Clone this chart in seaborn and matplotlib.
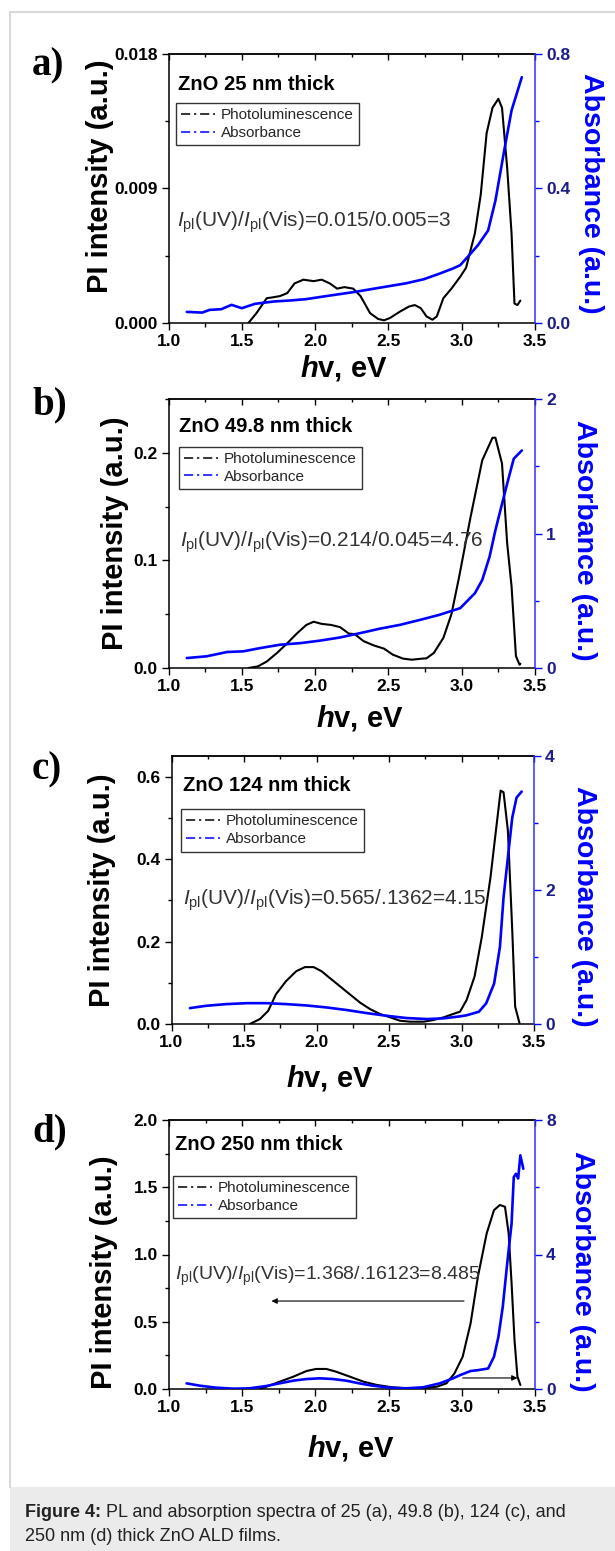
import matplotlib
matplotlib.use("Agg")
import matplotlib.pyplot as plt
import numpy as np
import pandas as pd
import seaborn as sns
from matplotlib.lines import Line2D
from matplotlib.patches import Rectangle
from matplotlib.ticker import MultipleLocator, FormatStrFormatter

# ---------------- data ----------------
a_pl_x = [1.545, 1.60, 1.67, 1.70, 1.76, 1.81, 1.86, 1.92, 1.99, 2.045, 2.10, 2.15, 2.20, 2.26, 2.31,
          2.375, 2.43, 2.47, 2.51, 2.58, 2.64, 2.68, 2.72, 2.76, 2.80, 2.83, 2.875, 2.93, 2.99, 3.03,
          3.09, 3.13, 3.17, 3.21, 3.25, 3.275, 3.31, 3.34, 3.36, 3.38, 3.40]
a_pl_y = [0.0, 0.00066, 0.00166, 0.0017, 0.0018, 0.002, 0.00265, 0.0029, 0.0028, 0.0029, 0.00265,
          0.0023, 0.0024, 0.0023, 0.0018, 0.00066, 0.00027, 0.00018, 0.00033, 0.00077, 0.0011, 0.0012,
          0.001, 0.00044, 0.00022, 0.00044, 0.00166, 0.0023, 0.0031, 0.0037, 0.006, 0.0086, 0.0127,
          0.0144, 0.0150, 0.0144, 0.0104, 0.006, 0.0013, 0.0012, 0.0015]
a_ab_x = [1.125, 1.23, 1.28, 1.36, 1.43, 1.50, 1.59, 1.72, 1.83, 1.94, 2.06, 2.17, 2.28, 2.40, 2.51,
          2.62, 2.74, 2.85, 2.94, 2.99, 3.06, 3.11, 3.18, 3.23, 3.29, 3.34, 3.41]
a_ab_y = [0.033, 0.031, 0.039, 0.041, 0.054, 0.044, 0.057, 0.064, 0.067, 0.071, 0.079, 0.086, 0.093,
          0.102, 0.110, 0.118, 0.130, 0.147, 0.162, 0.172, 0.206, 0.231, 0.275, 0.364, 0.513, 0.632, 0.731]

b_pl_x = [1.545, 1.61, 1.67, 1.74, 1.81, 1.875, 1.94, 1.99, 2.045, 2.11, 2.17, 2.23, 2.27, 2.33, 2.40,
          2.47, 2.53, 2.60, 2.66, 2.73, 2.76, 2.81, 2.875, 2.93, 2.98, 3.06, 3.14, 3.21, 3.23, 3.275,
          3.31, 3.34, 3.37, 3.395, 3.40]
b_pl_y = [0.0, 0.0015, 0.006, 0.014, 0.023, 0.032, 0.040, 0.043, 0.041, 0.040, 0.038, 0.032, 0.0315,
          0.025, 0.021, 0.018, 0.0124, 0.0087, 0.0077, 0.0087, 0.009, 0.014, 0.028, 0.05, 0.083, 0.14,
          0.193, 0.214, 0.214, 0.19, 0.116, 0.076, 0.011, 0.003, 0.004]
b_ab_x = [1.125, 1.26, 1.40, 1.51, 1.625, 1.76, 1.90, 2.03, 2.17, 2.31, 2.44, 2.58, 2.72, 2.85, 2.99,
          3.09, 3.14, 3.19, 3.23, 3.275, 3.31, 3.355, 3.41]
b_ab_y = [0.074, 0.087, 0.119, 0.124, 0.148, 0.173, 0.185, 0.203, 0.227, 0.260, 0.292, 0.321, 0.359,
          0.396, 0.445, 0.556, 0.654, 0.827, 1.025, 1.22, 1.37, 1.556, 1.617]

c_pl_x = [1.54, 1.61, 1.667, 1.72, 1.79, 1.86, 1.92, 1.98, 2.035, 2.09, 2.16, 2.23, 2.30, 2.37, 2.44,
          2.51, 2.575, 2.645, 2.74, 2.805, 2.875, 2.94, 2.99, 3.035, 3.09, 3.14, 3.20, 3.24, 3.27, 3.29,
          3.32, 3.35, 3.37, 3.40]
c_pl_y = [0.0, 0.012, 0.032, 0.072, 0.104, 0.128, 0.138, 0.138, 0.128, 0.112, 0.092, 0.072, 0.052,
          0.036, 0.024, 0.016, 0.008, 0.0056, 0.0056, 0.0096, 0.016, 0.024, 0.03, 0.058, 0.115, 0.211,
          0.356, 0.477, 0.566, 0.562, 0.469, 0.227, 0.042, 0.002]
c_ab_x = [1.127, 1.24, 1.38, 1.52, 1.655, 1.79, 1.93, 2.07, 2.21, 2.345, 2.48, 2.62, 2.76, 2.875, 2.99,
          3.035, 3.12, 3.17, 3.225, 3.265, 3.29, 3.32, 3.35, 3.38, 3.415]
c_ab_y = [0.237, 0.272, 0.297, 0.311, 0.311, 0.297, 0.277, 0.247, 0.208, 0.163, 0.124, 0.089, 0.074,
          0.084, 0.114, 0.13, 0.183, 0.307, 0.604, 1.15, 1.89, 2.49, 3.08, 3.38, 3.47]

d_pl_x = [1.62, 1.665, 1.755, 1.85, 1.94, 2.005, 2.075, 2.14, 2.235, 2.33, 2.42, 2.53, 2.62, 2.735,
          2.83, 2.895, 2.95, 3.006, 3.06, 3.11, 3.17, 3.22, 3.26, 3.295, 3.32, 3.34, 3.36, 3.38, 3.40]
d_pl_y = [0.003, 0.017, 0.054, 0.092, 0.134, 0.149, 0.149, 0.129, 0.092, 0.054, 0.030, 0.012, 0.005,
          0.005, 0.017, 0.042, 0.116, 0.24, 0.488, 0.835, 1.157, 1.33, 1.368, 1.355, 1.157, 0.786,
          0.364, 0.092, 0.03]
d_ab_x = [1.12, 1.21, 1.32, 1.44, 1.55, 1.665, 1.755, 1.85, 1.94, 2.03, 2.12, 2.21, 2.30, 2.39, 2.51,
          2.62, 2.735, 2.85, 2.94, 2.99, 3.06, 3.11, 3.18, 3.22, 3.25, 3.28, 3.31, 3.34, 3.355, 3.37,
          3.385, 3.40, 3.42]
d_ab_y = [0.168, 0.099, 0.040, 0.01, 0.02, 0.089, 0.168, 0.248, 0.297, 0.317, 0.297, 0.248, 0.168,
          0.099, 0.04, 0.02, 0.05, 0.168, 0.317, 0.416, 0.535, 0.56, 0.61, 0.96, 1.55, 2.45, 3.73, 4.92,
          6.3, 6.4, 6.26, 6.95, 6.55]

panel_letters = ["a)", "b)", "c)", "d)"]
film_titles = ["ZnO 25 nm thick", "ZnO 49.8 nm thick", "ZnO 124 nm thick", "ZnO 250 nm thick"]
ratio_texts = [r"$I_{\rm pl}$(UV)/$I_{\rm pl}$(Vis)=0.015/0.005=3",
               r"$I_{\rm pl}$(UV)/$I_{\rm pl}$(Vis)=0.214/0.045=4.76",
               r"$I_{\rm pl}$(UV)/$I_{\rm pl}$(Vis)=0.565/.1362=4.15",
               r"$I_{\rm pl}$(UV)/$I_{\rm pl}$(Vis)=1.368/.16123=8.485"]
pl_ylims = [0.018, 0.25, 0.65, 2.0]
pl_ticks = [[0.0, 0.009, 0.018], [0.0, 0.1, 0.2], [0.0, 0.2, 0.4, 0.6], [0.0, 0.5, 1.0, 1.5, 2.0]]
pl_fmts = ["%.3f", "%.1f", "%.1f", "%.1f"]
ab_ylims = [0.8, 2.0, 4.0, 8.0]
ab_ticks = [[0.0, 0.4, 0.8], [0, 1, 2], [0, 2, 4], [0, 4, 8]]
ab_fmts = ["%.1f", "%d", "%d", "%d"]
series_labels = ["Photoluminescence", "Absorbance"]
caption_bold = "Figure 4:"
caption_line1 = " PL and absorption spectra of 25 (a), 49.8 (b), 124 (c), and"
caption_line2 = "250 nm (d) thick ZnO ALD films."

# ---------------- style ----------------
sns.set_theme(style="ticks")
plt.rcParams["font.family"] = ["Liberation Sans", "DejaVu Sans"]
plt.rcParams["font.weight"] = "bold"
plt.rcParams["mathtext.fontset"] = "custom"
plt.rcParams["mathtext.rm"] = "Liberation Sans:normal"
plt.rcParams["mathtext.it"] = "Liberation Sans:italic:normal"
plt.rcParams["mathtext.bf"] = "Liberation Sans:bold"
try:
    plt.rcParams["mathtext.bfit"] = "Liberation Sans:italic:bold"
    xlab = r"$\mathbfit{h}$v, eV"
except KeyError:
    xlab = r"$\mathit{h}$v, eV"

W, H = 615, 1551
fig = plt.figure(figsize=(W / 100, H / 100), dpi=100)
fig.patch.set_facecolor("white")

def rect(L, R, T, B):
    return [L / W, 1 - B / H, (R - L) / W, (B - T) / H]

boxes = [(168.5, 535, 54, 323), (168.5, 535, 399, 668), (171.5, 534, 756, 1024), (169, 535, 1120, 1389)]
title_pos = [(0.026, 0.866), (0.029, 0.878), (0.031, 0.868), (0.016, 0.888)]
legend_pos = [(0.020, 0.818), (0.029, 0.823), (0.025, 0.802), (0.011, 0.792)]
ratio_pos = [(0.023, 0.357), (0.032, 0.451), (0.031, 0.444), (0.016, 0.405)]
ratio_size = [15, 15, 15, 14]
xlabel_pos = [(0.479, -0.112), (0.523, -0.129), (0.437, -0.145), (0.497, -0.164)]
ylabel_pos = [(-0.149, 0.546), (-0.108, 0.5), (-0.153, 0.5), (-0.139, 0.433)]
y2label_pos = [(1.117, 0.483), (1.097, 0.476), (1.101, 0.44), (1.092, 0.437)]
letter_pos = [(48, 66), (50, 405), (47, 770), (50, 1132)]

pl_sets = [(a_pl_x, a_pl_y), (b_pl_x, b_pl_y), (c_pl_x, c_pl_y), (d_pl_x, d_pl_y)]
ab_sets = [(a_ab_x, a_ab_y), (b_ab_x, b_ab_y), (c_ab_x, c_ab_y), (d_ab_x, d_ab_y)]

blue = "#0000ff"
navy = "#1c1c8c"

for i in range(4):
    ax = fig.add_axes(rect(*boxes[i]))
    ax.set_facecolor("white")
    df_pl = pd.DataFrame({"E": pl_sets[i][0], "PL": pl_sets[i][1]})
    df_ab = pd.DataFrame({"E": ab_sets[i][0], "A": ab_sets[i][1]})
    sns.lineplot(data=df_pl, x="E", y="PL", ax=ax, color="black", lw=1.5,
                 sort=False, estimator=None, legend=False)
    ax2 = ax.twinx()
    sns.lineplot(data=df_ab, x="E", y="A", ax=ax2, color=blue, lw=1.9,
                 sort=False, estimator=None, legend=False)

    ax.set_xlim(1.0, 3.5)
    ax.set_ylim(0, pl_ylims[i])
    ax2.set_ylim(0, ab_ylims[i])
    ax.xaxis.set_major_locator(MultipleLocator(0.5))
    ax.xaxis.set_minor_locator(MultipleLocator(0.25))
    ax.xaxis.set_major_formatter(FormatStrFormatter("%.1f"))
    ax.set_yticks(pl_ticks[i])
    ax.yaxis.set_major_formatter(FormatStrFormatter(pl_fmts[i]))
    step = pl_ticks[i][1] - pl_ticks[i][0]
    ax.yaxis.set_minor_locator(MultipleLocator(step / 2))
    ax.tick_params(which="both", direction="out", top=False, right=False,
                   labelsize=12.5, width=1.0, color="black", labelcolor="black", pad=3)
    ax.tick_params(which="major", length=5)
    ax.tick_params(which="minor", length=3)

    ax2.set_yticks(ab_ticks[i])
    ax2.yaxis.set_major_formatter(FormatStrFormatter(ab_fmts[i]))
    astep = ab_ticks[i][1] - ab_ticks[i][0]
    ax2.yaxis.set_minor_locator(MultipleLocator(astep / 2))
    ax2.tick_params(which="both", direction="out", labelsize=12.5, width=1.0,
                    color=blue, labelcolor=navy, pad=3)
    ax2.tick_params(which="major", length=5)
    ax2.tick_params(which="minor", length=3)

    secx = ax.secondary_xaxis("top")
    secx.xaxis.set_major_locator(MultipleLocator(0.5))
    secx.xaxis.set_minor_locator(MultipleLocator(0.25))
    secx.tick_params(which="both", direction="in", labeltop=False, width=1.0, color="black")
    secx.tick_params(which="major", length=4)
    secx.tick_params(which="minor", length=2.5)
    secx.spines["top"].set_linewidth(1.1)

    for s in ["left", "bottom", "top"]:
        ax.spines[s].set_linewidth(1.1)
        ax.spines[s].set_color("black")
        ax2.spines[s].set_visible(False)
    ax.spines["right"].set_visible(False)
    ax2.spines["right"].set_color("#3030ff")
    ax2.spines["right"].set_linewidth(1.1)

    ax.set_ylabel("PI intensity (a.u.)", fontsize=21, fontweight="bold", color="black")
    ax.yaxis.set_label_coords(*ylabel_pos[i])
    ax2.set_ylabel("Absorbance (a.u.)", fontsize=20.5, fontweight="bold", color=blue,
                   rotation=270, va="bottom")
    ax2.yaxis.set_label_coords(*y2label_pos[i])
    ax.set_xlabel(xlab, fontsize=21, fontweight="bold", color="black")
    ax.xaxis.set_label_coords(*xlabel_pos[i])

    ax.text(*title_pos[i], film_titles[i], transform=ax.transAxes, fontsize=14.5,
            fontweight="bold", va="baseline", ha="left", color="black")
    ax.text(*ratio_pos[i], ratio_texts[i], transform=ax.transAxes, fontsize=ratio_size[i],
            fontweight="normal", va="baseline", ha="left", color="#333333")

    handles = [Line2D([], [], color="black", lw=1.1, dashes=(6, 2.5, 1.5, 2.5)),
               Line2D([], [], color=blue, lw=1.1, dashes=(6, 2.5, 1.5, 2.5))]
    leg = ax2.legend(handles, series_labels, loc="upper left", bbox_to_anchor=legend_pos[i],
                     borderaxespad=0, frameon=True, fancybox=False, edgecolor="#333333",
                     framealpha=1, prop={"size": 11, "weight": "normal"}, handlelength=2.2,
                     handletextpad=0.4, labelspacing=0.25, borderpad=0.35)
    leg.get_frame().set_linewidth(1.0)

    if i == 3:
        ax.annotate("", xy=(1.70, 0.654), xytext=(3.015, 0.654),
                    arrowprops=dict(arrowstyle="-|>", color="black", lw=0.8,
                                    mutation_scale=8, shrinkA=0, shrinkB=0))
        ax.annotate("", xy=(3.38, 0.082), xytext=(3.006, 0.082),
                    arrowprops=dict(arrowstyle="-|>", color="black", lw=0.8,
                                    mutation_scale=8, shrinkA=0, shrinkB=0))

    lx, ly = letter_pos[i]
    fig.text(lx / W, 1 - ly / H, panel_letters[i], family="Liberation Serif",
             fontweight="bold", fontsize=28, ha="center", va="center", color="black")

# frame and caption band
fig.patches.append(Rectangle((10 / W, 0), (W - 10) / W, (H - 1487) / H,
                             transform=fig.transFigure, facecolor="#ebebeb",
                             edgecolor="none", zorder=0))
fig.add_artist(Line2D([10 / W, 10 / W], [1 - 1487 / H, 1 - 12 / H],
                      transform=fig.transFigure, color="#d9d9d9", lw=1.5))
fig.add_artist(Line2D([10 / W, 1.0], [1 - 12 / H, 1 - 12 / H],
                      transform=fig.transFigure, color="#d9d9d9", lw=1.5))
t_bold = fig.text(25 / W, 1 - 1517 / H, caption_bold, fontsize=13, fontweight="bold",
                  color="#222222", va="baseline", ha="left")
renderer = fig.canvas.get_renderer()
bb = t_bold.get_window_extent(renderer=renderer)
fig.text(bb.x1 / W, 1 - 1517 / H, caption_line1, fontsize=13, fontweight="normal",
         color="#222222", va="baseline", ha="left")
fig.text(25 / W, 1 - 1541 / H, caption_line2, fontsize=13, fontweight="normal",
         color="#222222", va="baseline", ha="left")

fig.savefig("out.png", dpi=100)
